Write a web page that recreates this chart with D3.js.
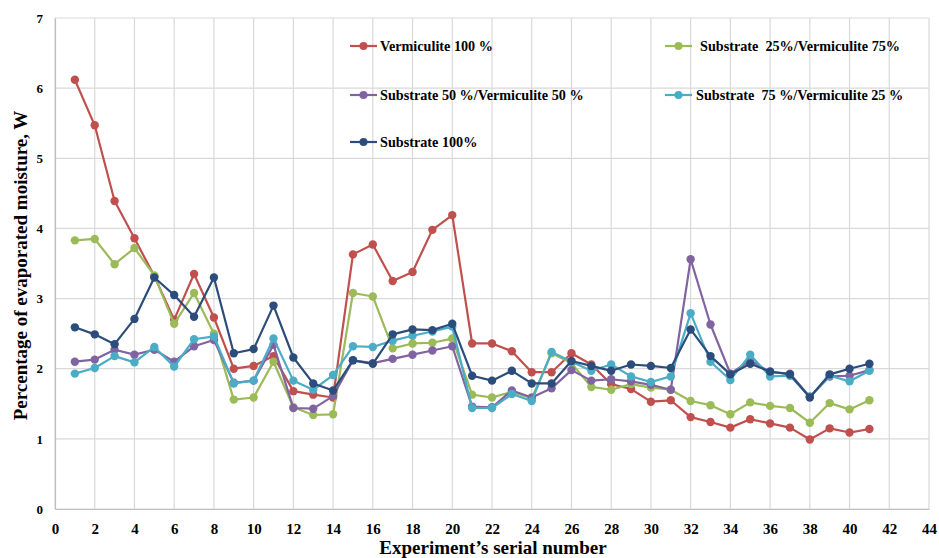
<!DOCTYPE html>
<html>
<head>
<meta charset="utf-8">
<script src="https://cdn.jsdelivr.net/npm/d3@7"></script>
<style>
  html, body { margin: 0; padding: 0; background: #fff; }
  svg { display: block; font-family: "Liberation Serif", "Times New Roman", serif; }
</style>
</head>
<body>
<svg id="chart" width="939" height="558"></svg>
<script>
// Experiment serial numbers 1..41
const experiments = d3.range(1, 42);

const seriesNames = [
  "Vermiculite 100 %",
  "Substrate  25%/Vermiculite 75%",
  "Substrate 50 %/Vermiculite 50 %",
  "Substrate  75 %/Vermiculite 25 %",
  "Substrate 100%"
];

const seriesColors = ["#c0504d", "#9bbb59", "#8064a2", "#4bacc6", "#2c4d7c"];

const vermiculite100 = [
  6.12, 5.47, 4.39, 3.86, 3.32, 2.70, 3.35, 2.73, 2.00, 2.04,
  2.18, 1.68, 1.63, 1.59, 3.63, 3.77, 3.25, 3.38, 3.98, 4.19,
  2.36, 2.36, 2.25, 1.95, 1.95, 2.22, 2.06, 1.78, 1.71, 1.53,
  1.55, 1.31, 1.24, 1.16, 1.28, 1.22, 1.16, 0.99, 1.15, 1.09, 1.14
];

const substrate25 = [
  3.83, 3.85, 3.49, 3.72, 3.33, 2.64, 3.08, 2.50, 1.56, 1.59,
  2.10, 1.45, 1.34, 1.35, 3.08, 3.03, 2.29, 2.36, 2.37, 2.43,
  1.63, 1.59, 1.67, 1.58, 2.22, 2.08, 1.74, 1.70, 1.78, 1.73,
  1.70, 1.54, 1.48, 1.35, 1.52, 1.47, 1.44, 1.23, 1.51, 1.42, 1.55
];

const substrate50 = [
  2.10, 2.13, 2.27, 2.20, 2.27, 2.10, 2.32, 2.41, 1.80, 1.83,
  2.34, 1.44, 1.43, 1.61, 2.12, 2.08, 2.14, 2.20, 2.26, 2.32,
  1.46, 1.45, 1.69, 1.59, 1.72, 1.98, 1.83, 1.85, 1.82, 1.77,
  1.70, 3.56, 2.63, 1.93, 2.12, 1.95, 1.93, 1.60, 1.89, 1.90, 1.98
];

const substrate75 = [
  1.93, 2.01, 2.18, 2.09, 2.31, 2.03, 2.42, 2.46, 1.79, 1.83,
  2.43, 1.83, 1.70, 1.91, 2.32, 2.31, 2.40, 2.47, 2.53, 2.60,
  1.44, 1.44, 1.64, 1.54, 2.24, 2.10, 1.97, 2.06, 1.89, 1.81,
  1.89, 2.79, 2.10, 1.84, 2.20, 1.89, 1.90, 1.60, 1.90, 1.82, 1.97
];

const substrate100 = [
  2.59, 2.49, 2.35, 2.71, 3.30, 3.05, 2.74, 3.30, 2.22, 2.28,
  2.90, 2.16, 1.79, 1.69, 2.12, 2.07, 2.49, 2.56, 2.55, 2.64,
  1.90, 1.83, 1.97, 1.79, 1.79, 2.11, 2.04, 1.97, 2.06, 2.04,
  2.01, 2.56, 2.18, 1.92, 2.07, 1.96, 1.92, 1.59, 1.92, 2.00, 2.07
];

const seriesValues = [vermiculite100, substrate25, substrate50, substrate75, substrate100];

const xTicks = d3.range(0, 45, 2);
const yTicks = d3.range(0, 8, 1);

const xTitle = "Experiment\u2019s serial number";
const yTitle = "Percentage of evaporated moisture, W";

// Layout
const margin = { left: 55, top: 18, right: 10, bottom: 49 };
const svg = d3.select("#chart");
const plotW = 929 - margin.left;
const plotH = 509 - margin.top;

const x = d3.scaleLinear().domain([0, 44]).range([margin.left, margin.left + plotW]);
const y = d3.scaleLinear().domain([0, 7]).range([margin.top + plotH, margin.top]);

const grid = svg.append("g");
// vertical gridlines
grid.selectAll("line.v").data(xTicks).join("line")
  .attr("x1", d => x(d)).attr("x2", d => x(d))
  .attr("y1", y(0)).attr("y2", y(7))
  .attr("stroke", "#d9d9d9").attr("stroke-width", 1.2);
// horizontal gridlines
grid.selectAll("line.h").data(yTicks).join("line")
  .attr("x1", x(0)).attr("x2", x(44))
  .attr("y1", d => y(d)).attr("y2", d => y(d))
  .attr("stroke", "#d9d9d9").attr("stroke-width", 1.2);

// axes
const xAxis = svg.append("g")
  .attr("transform", `translate(0,${y(0)})`)
  .call(d3.axisBottom(x).tickValues(xTicks).tickFormat(d3.format("d")).tickSize(0).tickPadding(14));
xAxis.select(".domain").attr("stroke", "#bfbfbf").attr("stroke-width", 1.2);
xAxis.selectAll("text")
  .attr("font-family", "Liberation Serif, serif")
  .attr("font-weight", "bold").attr("font-size", 15).attr("fill", "#000");

const yAxis = svg.append("g")
  .attr("transform", `translate(${x(0)},0)`)
  .call(d3.axisLeft(y).tickValues(yTicks).tickFormat(d3.format("d")).tickSize(0).tickPadding(12));
yAxis.select(".domain").attr("stroke", "#bfbfbf").attr("stroke-width", 1.2);
yAxis.selectAll("text")
  .attr("font-family", "Liberation Serif, serif")
  .attr("font-weight", "bold").attr("font-size", 13).attr("fill", "#000");

// axis titles
svg.append("text")
  .attr("x", 493).attr("y", 554)
  .attr("text-anchor", "middle")
  .attr("font-weight", "bold").attr("font-size", 19)
  .text(xTitle);

svg.append("text")
  .attr("transform", `translate(27,${(y(0) + y(7)) / 2 + 2}) rotate(-90)`)
  .attr("text-anchor", "middle")
  .attr("font-weight", "bold").attr("font-size", 19)
  .text(yTitle);

// series
const line = d3.line().x((d, i) => x(experiments[i])).y(d => y(d));
const seriesG = svg.append("g");
seriesValues.forEach((vals, si) => {
  const g = seriesG.append("g");
  g.append("path").datum(vals)
    .attr("d", line)
    .attr("fill", "none")
    .attr("stroke", seriesColors[si])
    .attr("stroke-width", 2.2)
    .attr("stroke-linejoin", "round");
  g.selectAll("circle").data(vals).join("circle")
    .attr("cx", (d, i) => x(experiments[i]))
    .attr("cy", d => y(d))
    .attr("r", 4.2)
    .attr("fill", seriesColors[si]);
});

// legend
const legendPos = [
  { lx: 350, ly: 46 },
  { lx: 665, ly: 46 },
  { lx: 350, ly: 95 },
  { lx: 665, ly: 95 },
  { lx: 350, ly: 142 }
];
const textOffset = [30, 35, 30, 31, 30];
const legend = svg.append("g");
seriesNames.forEach((name, i) => {
  const p = legendPos[i];
  const g = legend.append("g").attr("transform", `translate(${p.lx},${p.ly})`);
  g.append("line").attr("x1", 0).attr("x2", 27).attr("y1", 0).attr("y2", 0)
    .attr("stroke", seriesColors[i]).attr("stroke-width", 2.2);
  g.append("circle").attr("cx", 13.5).attr("cy", 0).attr("r", 4)
    .attr("fill", seriesColors[i]);
  g.append("text").attr("x", textOffset[i]).attr("y", 5)
    .attr("font-weight", "bold").attr("font-size", 14.2)
    .style("white-space", "pre")
    .attr("xml:space", "preserve")
    .text(name);
});
</script>
</body>
</html>
